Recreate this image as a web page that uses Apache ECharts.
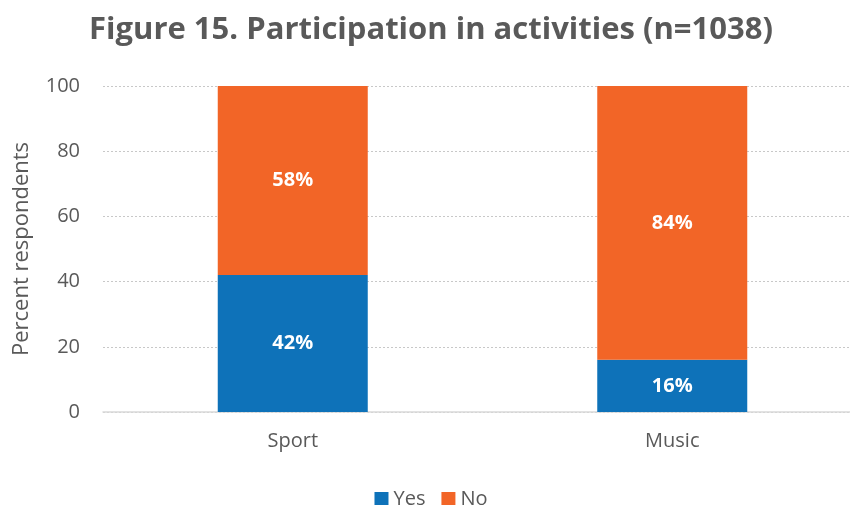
<!DOCTYPE html>
<html>
<head>
<meta charset="utf-8">
<script src="https://cdn.jsdelivr.net/npm/echarts@6/dist/echarts.min.js"></script>
<style>
  html, body { margin: 0; padding: 0; background: #fff; overflow: hidden; }
  #chart { width: 862px; height: 505px; }
</style>
</head>
<body>
<div id="chart"></div>
<script>
// Survey results: share of respondents taking part in each activity
const categories = ['Sport', 'Music'];
const yesValues = [42, 16];
const noValues = [58, 84];
const yTicks = [0, 20, 40, 60, 80, 100];

const fontFamily = '"Open Sans", "Liberation Sans", sans-serif';
const textColor = '#595959';

const chart = echarts.init(document.getElementById('chart'), null, { renderer: 'canvas' });

const labelStyle = {
  show: true,
  position: 'inside',
  color: '#ffffff',
  fontFamily: fontFamily,
  fontWeight: 'bold',
  fontSize: 20,
  formatter: p => p.value + '%'
};

chart.setOption({
  animation: false,
  title: {
    text: 'Figure 15. Participation in activities (n=1038)',
    left: 'center',
    top: 10,
    textStyle: { fontFamily: fontFamily, fontWeight: 'bold', fontSize: 31, color: textColor }
  },
  legend: {
    top: 484,
    left: 'center',
    itemWidth: 14,
    itemHeight: 14,
    itemGap: 16,
    icon: 'rect',
    textStyle: { fontFamily: fontFamily, fontSize: 20, color: textColor },
    data: ['Yes', 'No']
  },
  grid: { left: 103, right: 0, top: 86, bottom: 93 },
  xAxis: {
    type: 'category',
    data: categories,
    axisTick: { show: false },
    axisLine: { lineStyle: { color: '#d9d9d9', width: 1.5 } },
    axisLabel: { fontFamily: fontFamily, fontSize: 20, color: textColor, margin: 19 }
  },
  yAxis: {
    type: 'value',
    min: yTicks[0],
    max: yTicks[yTicks.length - 1],
    interval: yTicks[1] - yTicks[0],
    name: 'Percent respondents',
    nameLocation: 'middle',
    nameGap: 70,
    nameTextStyle: { fontFamily: fontFamily, fontSize: 22, color: textColor },
    axisLine: { show: false },
    axisTick: { show: false },
    axisLabel: { fontFamily: fontFamily, fontSize: 20, color: textColor, margin: 23 },
    splitLine: { lineStyle: { color: '#c8c8c8', type: [2, 2], width: 1 } }
  },
  series: [
    {
      name: 'Yes',
      type: 'bar',
      stack: 'total',
      data: yesValues,
      barWidth: 150,
      itemStyle: { color: '#0E72B9' },
      label: labelStyle
    },
    {
      name: 'No',
      type: 'bar',
      stack: 'total',
      data: noValues,
      barWidth: 150,
      itemStyle: { color: '#F26527' },
      label: labelStyle
    }
  ]
});
</script>
</body>
</html>
